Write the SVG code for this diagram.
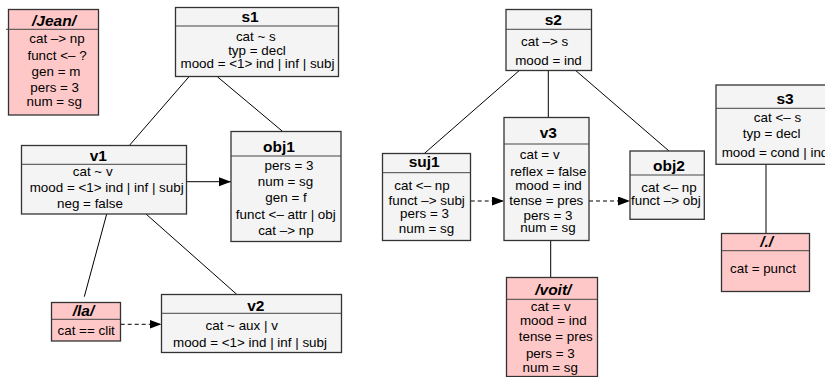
<svg xmlns="http://www.w3.org/2000/svg" width="825" height="377" viewBox="0 0 825 377">
<style>
text{font-family:"Liberation Sans",Arial,sans-serif;font-size:13.4px;fill:#000;text-anchor:middle}
.t{font-weight:bold;font-size:15.5px}
.r .t{font-style:italic}
.g rect{fill:#f4f4f4;stroke:#333;stroke-width:1.3}
.r rect{fill:#ffc8c8;stroke:#333;stroke-width:1.3}
.hl{stroke:#444;stroke-width:1}
.s{text-anchor:start}
#edges line{stroke:#000;stroke-width:1}
#edges .d{stroke-dasharray:4 3}
</style>
<defs>
<marker id="ah" markerUnits="userSpaceOnUse" markerWidth="13" markerHeight="10" refX="12" refY="4.5" orient="auto">
<path d="M0,0 L12,4.5 L0,9 z" fill="#000"/>
</marker>
</defs>
<g id="edges">
<line x1="189" y1="76.7" x2="129.3" y2="145.5"/>
<line x1="217.3" y1="76.7" x2="282.7" y2="131.5"/>
<line x1="186.5" y1="181.7" x2="231" y2="181.7" marker-end="url(#ah)"/>
<line x1="106.7" y1="214" x2="84.3" y2="296.7"/>
<line x1="146" y1="214" x2="236.7" y2="294.3"/>
<line class="d" x1="120.7" y1="324.3" x2="161.5" y2="324.3" marker-end="url(#ah)"/>
<line x1="519.3" y1="70.5" x2="424.3" y2="153.5"/>
<line x1="548.3" y1="70.5" x2="548.3" y2="117.5"/>
<line x1="575.7" y1="70.5" x2="669" y2="151"/>
<line class="d" x1="470.7" y1="201" x2="504" y2="201" marker-end="url(#ah)"/>
<line class="d" x1="589" y1="201" x2="630" y2="201" marker-end="url(#ah)"/>
<line x1="550.7" y1="240.7" x2="550.7" y2="277.5"/>
<line x1="766" y1="164.3" x2="766" y2="233.5"/>
</g>
<g id="jean" class="r">
<rect x="8.5" y="9.5" width="90" height="105.5"/>
<line class="hl" x1="6" y1="29.3" x2="98.5" y2="29.3"/>
<text class="t" x="54" y="25.5">/Jean/</text>
<text x="57" y="43.3">cat –&gt; np</text>
<text x="57" y="60">funct &lt;– ?</text>
<text x="56" y="76">gen = m</text>
<text x="54.7" y="91.7">pers = 3</text>
<text x="54.3" y="106">num = sg</text>
</g>
<g id="s1" class="g">
<rect x="175.5" y="7.5" width="163" height="69"/>
<line class="hl" x1="175.5" y1="26" x2="338.5" y2="26"/>
<text class="t" x="250" y="22">s1</text>
<text x="255.8" y="41">cat ~ s</text>
<text x="257" y="54.5">typ = decl</text>
<text x="257.5" y="67.8">mood = &lt;1&gt; ind | inf | subj</text>
</g>
<g id="v1" class="g">
<rect x="21.5" y="145.5" width="165" height="68.5"/>
<line class="hl" x1="21.5" y1="164.3" x2="186.5" y2="164.3"/>
<text class="t" x="98.3" y="161">v1</text>
<text x="92.7" y="176">cat ~ v</text>
<text x="106.7" y="191.5">mood = &lt;1&gt; ind | inf | subj</text>
<text x="90" y="208.3">neg = false</text>
</g>
<g id="obj1" class="g">
<rect x="231" y="131.5" width="110" height="110"/>
<line class="hl" x1="231" y1="156" x2="341" y2="156"/>
<text class="t" x="279" y="151.5">obj1</text>
<text x="289" y="170">pers = 3</text>
<text x="285.5" y="185.7">num = sg</text>
<text x="286" y="202">gen = f</text>
<text x="285.8" y="219">funct &lt;– attr | obj</text>
<text x="285.9" y="235">cat –&gt; np</text>
</g>
<g id="la" class="r">
<rect x="51.5" y="302.5" width="69" height="38.5"/>
<line class="hl" x1="51.5" y1="319.3" x2="120.5" y2="319.3"/>
<text class="t" x="83.5" y="316">/la/</text>
<text x="86.2" y="334.7">cat == clit</text>
</g>
<g id="v2" class="g">
<rect x="161.5" y="294.5" width="180" height="58"/>
<line class="hl" x1="161.5" y1="313.3" x2="341.5" y2="313.3"/>
<text class="t" x="255.8" y="310.5">v2</text>
<text x="241.7" y="330">cat ~ aux | v</text>
<text x="250" y="347.3">mood = &lt;1&gt; ind | inf | subj</text>
</g>
<g id="s2" class="g">
<rect x="506" y="9.5" width="85.5" height="61"/>
<line class="hl" x1="506" y1="29.3" x2="591.5" y2="29.3"/>
<text class="t" x="553.3" y="24.5">s2</text>
<text class="s" x="521" y="45.5">cat –&gt; s</text>
<text x="548.5" y="64.5">mood = ind</text>
</g>
<g id="suj1" class="g">
<rect x="382.5" y="153.5" width="88" height="87"/>
<line class="hl" x1="382.5" y1="172.7" x2="470.5" y2="172.7"/>
<text class="t" x="424.2" y="167">suj1</text>
<text x="422" y="190">cat &lt;– np</text>
<text x="426.7" y="205">funct –&gt; subj</text>
<text x="424.5" y="218.3">pers = 3</text>
<text x="426.5" y="233.3">num = sg</text>
</g>
<g id="v3" class="g">
<rect x="504" y="117.5" width="85" height="123"/>
<line class="hl" x1="504" y1="144" x2="589" y2="144"/>
<text class="t" x="548.3" y="138.3">v3</text>
<text x="539.7" y="159.3">cat = v</text>
<text x="548.3" y="175.7">reflex = false</text>
<text x="548.5" y="190">mood = ind</text>
<text x="546.3" y="205">tense = pres</text>
<text x="548" y="220">pers = 3</text>
<text x="548" y="231.7">num = sg</text>
</g>
<g id="obj2" class="g">
<rect x="630" y="151" width="74.3" height="68.3" style="stroke:none"/>
<text class="t" x="669" y="170.7">obj2</text>
<text x="669" y="191.7">cat &lt;– np</text>
<text class="s" x="631" y="205">funct –&gt; obj</text>
<rect x="630" y="151" width="74.3" height="68.3" style="fill:none"/>
<line class="hl" x1="630" y1="175" x2="704.3" y2="175"/>
</g>
<g id="s3" class="g">
<rect x="716" y="85" width="140" height="79.3"/>
<line class="hl" x1="716" y1="108.3" x2="856" y2="108.3"/>
<text class="t" x="785" y="103.5">s3</text>
<text x="777.5" y="121.7">cat &lt;– s</text>
<text x="771.7" y="138.3">typ = decl</text>
<text class="s" x="721.7" y="156.7">mood = cond | ind</text>
</g>
<g id="voit" class="r">
<rect x="506.5" y="277.5" width="91" height="99"/>
<line class="hl" x1="506.5" y1="299.3" x2="597.5" y2="299.3"/>
<text class="t" x="553.3" y="294.5">/voit/</text>
<text x="550.7" y="311">cat = v</text>
<text x="553.3" y="325">mood = ind</text>
<text x="555.8" y="341">tense = pres</text>
<text x="550.3" y="357.7">pers = 3</text>
<text x="550.3" y="371.7">num = sg</text>
</g>
<g id="punct" class="r">
<rect x="721.5" y="233.5" width="88" height="58"/>
<line class="hl" x1="721.5" y1="250.7" x2="809.5" y2="250.7"/>
<text class="t" x="766.7" y="247">/./</text>
<text x="763" y="273.3">cat = punct</text>
</g>
</svg>
